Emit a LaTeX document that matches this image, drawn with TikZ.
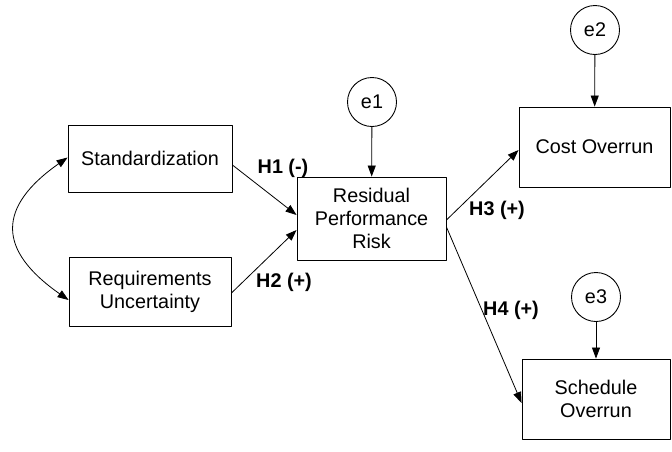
\documentclass[tikz,border=0pt]{standalone}
\usepackage{fontspec}
\setmainfont{Liberation Sans}
\usetikzlibrary{arrows.meta}
\begin{document}
\begin{tikzpicture}[x=1pt,y=-1pt,line cap=round,line join=round,
  font=\fontsize{19.8}{23}\selectfont,
  var/.style={draw,line width=0.9pt,align=center,inner sep=0pt},
  err/.style={draw,circle,line width=0.9pt,minimum size=49pt,inner sep=0pt},
  hyp/.style={font=\fontsize{19.8}{23}\selectfont\bfseries},
  link/.style={line width=0.8pt,-{Triangle[length=11pt,width=8pt]}}]
  \useasboundingbox (0,0) rectangle (672,451);

  % Observed variables.
  \node[var,minimum width=164pt,minimum height=67pt] (std) at (150,158.5) {Standardization};
  \node[var,minimum width=162pt,minimum height=69pt] (req) at (150,291.5) {Requirements\\Uncertainty};
  \node[var,minimum width=149pt,minimum height=83pt] (rpr) at (371.5,218.5) {Residual\\Performance\\Risk};
  \node[var,minimum width=151pt,minimum height=80pt] (cost) at (594.5,147) {Cost Overrun};
  \node[var,minimum width=148pt,minimum height=80pt] (sched) at (596,399) {Schedule\\Overrun};

  % Error terms.
  \node[err] (e1) at (372,102) {e1};
  \node[err] (e2) at (595,30) {e2};
  \node[err] (e3) at (596,297) {e3};

  % Correlation between the predictors.
  \draw[line width=0.8pt,{Triangle[length=11pt,width=8pt]}-{Triangle[length=11pt,width=8pt]}]
    ([yshift=1pt]std.west) .. controls (-3,207) and (-3,250) .. ([yshift=-8.5pt]req.west);

  % Hypothesised paths.
  \draw[link] ([yshift=-6.5pt]std.east) -- ([yshift=3.5pt]rpr.west);
  \draw[link] ([yshift=-1.5pt]req.east) -- ([yshift=-11.5pt]rpr.west);
  \draw[link] ([yshift=-1.5pt]rpr.east) -- ([yshift=-3pt]cost.west);
  \draw[link] ([yshift=-8.5pt]rpr.east) -- ([yshift=-4pt]sched.west);
  \draw[link] (e1) -- (rpr);
  \draw[link] (e2) -- (cost);
  \draw[link] (e3) -- (sched);

  \node[hyp] (h1) at (283,168) {H1 (-)};
  \node[hyp] (h2) at (284,282) {H2 (+)};
  \node[hyp] (h3) at (497,210) {H3 (+)};
  \node[hyp] (h4) at (511,310) {H4 (+)};
\end{tikzpicture}
\end{document}
